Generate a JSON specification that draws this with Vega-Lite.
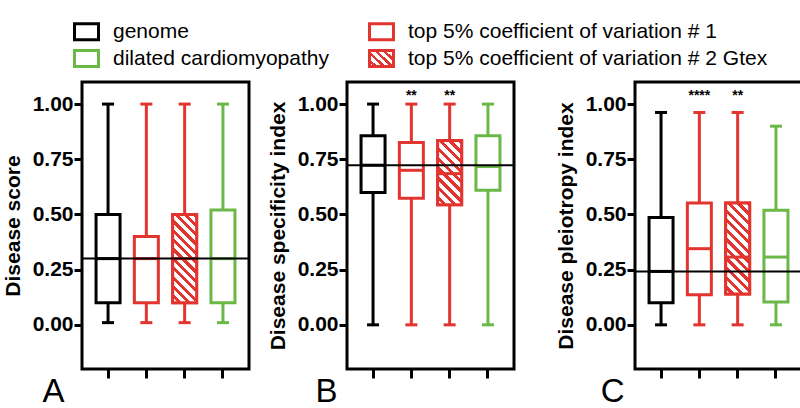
{
"$schema": "https://vega.github.io/schema/vega-lite/v6.json",
"background": "white",
"padding": {"left": 0, "top": 21, "right": 0, "bottom": 0},
"config": {
  "font": "Liberation Sans",
  "view": {"stroke": "black", "strokeWidth": 3},
  "tick": {"opacity": 1},
  "axisY": {"domain": false, "grid": false, "tickSize": 8, "tickWidth": 3, "tickColor": "black", "labelFont": "Liberation Sans", "labelFontWeight": "bold", "labelFontSize": 21, "labelColor": "black", "labelPadding": 1, "titleFont": "Liberation Sans", "titleFontSize": 21, "titleFontWeight": "bold", "titleColor": "black", "titlePadding": 9},
  "axisX": {"labels": false, "domain": false, "grid": false, "tickSize": 9, "tickWidth": 3, "tickColor": "black", "bandPosition": 0.5, "titleAnchor": "start", "titleAlign": "right", "titleY": 32, "titleBaseline": "alphabetic", "titleFontSize": 33, "titleFontWeight": "normal", "titleColor": "black", "titleFont": "Liberation Sans"}
},
"datasets": {
  "A": [
    {"group": "genome", "min": 0.01, "q1": 0.1, "median": 0.3, "q3": 0.5, "max": 1.0, "sig": ""},
    {"group": "top 5% coefficient of variation # 1", "min": 0.01, "q1": 0.1, "median": 0.3, "q3": 0.4, "max": 1.0, "sig": ""},
    {"group": "top 5% coefficient of variation # 2 Gtex", "min": 0.01, "q1": 0.1, "median": 0.3, "q3": 0.5, "max": 1.0, "sig": ""},
    {"group": "dilated cardiomyopathy", "min": 0.01, "q1": 0.1, "median": 0.3, "q3": 0.52, "max": 1.0, "sig": ""}
  ],
  "B": [
    {"group": "genome", "min": 0.0, "q1": 0.6, "median": 0.723, "q3": 0.856, "max": 1.0, "sig": ""},
    {"group": "top 5% coefficient of variation # 1", "min": 0.0, "q1": 0.573, "median": 0.7, "q3": 0.826, "max": 1.0, "sig": "**"},
    {"group": "top 5% coefficient of variation # 2 Gtex", "min": 0.0, "q1": 0.544, "median": 0.685, "q3": 0.835, "max": 1.0, "sig": "**"},
    {"group": "dilated cardiomyopathy", "min": 0.0, "q1": 0.61, "median": 0.717, "q3": 0.856, "max": 1.0, "sig": ""}
  ],
  "C": [
    {"group": "genome", "min": 0.0, "q1": 0.1, "median": 0.242, "q3": 0.486, "max": 0.962, "sig": ""},
    {"group": "top 5% coefficient of variation # 1", "min": 0.0, "q1": 0.136, "median": 0.345, "q3": 0.552, "max": 0.962, "sig": "****"},
    {"group": "top 5% coefficient of variation # 2 Gtex", "min": 0.0, "q1": 0.14, "median": 0.307, "q3": 0.552, "max": 0.962, "sig": "**"},
    {"group": "dilated cardiomyopathy", "min": 0.0, "q1": 0.104, "median": 0.307, "q3": 0.519, "max": 0.9, "sig": ""}
  ]
},
"spacing": 36,
"hconcat": [
{"spacing": 13, "hconcat": [
{
  "width": 167, "height": 287,
  "data": {"name": "A"},
  "layer": [
    {"mark": {"type": "rule", "strokeWidth": 3},
     "encoding": {
       "x": {"field": "group", "type": "nominal", "scale": {"type": "band", "domain": ["genome", "top 5% coefficient of variation # 1", "top 5% coefficient of variation # 2 Gtex", "dilated cardiomyopathy"], "paddingInner": 0, "paddingOuter": 0.18}, "axis": {"title": "A", "titleX": -18}},
       "y": {"field": "min", "type": "quantitative", "scale": {"domain": [-0.2, 1.1], "nice": false, "zero": false}, "axis": {"title": "Disease score", "values": [0, 0.25, 0.5, 0.75, 1], "format": ".2f"}},
       "y2": {"field": "max"},
       "stroke": {"field": "group", "type": "nominal", "scale": {"domain": ["genome", "top 5% coefficient of variation # 1", "dilated cardiomyopathy", "top 5% coefficient of variation # 2 Gtex"], "range": ["#000000", "#e2352f", "#6ab946", "#e2352f"]},
         "legend": {"title": null, "orient": "none", "legendX": -6, "legendY": -61, "direction": "horizontal", "columns": 2, "columnPadding": 34, "rowPadding": -2, "padding": 0, "labelFont": "Liberation Sans", "labelFontSize": 21, "labelColor": "black", "labelLimit": 500, "labelOffset": 16, "symbolType": "M-1.5,-1H1.5V1H-1.5Z", "symbolSize": 256, "symbolStrokeWidth": 3, "symbolOpacity": 1,
           "encode": {"symbols": {"update": {"fill": {"signal": "datum.value === 'top 5% coefficient of variation # 2 Gtex' ? {gradient: 'linear', x1: 0, y1: 1, x2: 1.1394, y2: 0.1982, stops: [{offset: 0, color: 'white'}, {offset: 0.11, color: 'white'}, {offset: 0.11, color: '#e2352f'}, {offset: 0.2, color: '#e2352f'}, {offset: 0.2, color: 'white'}, {offset: 0.31, color: 'white'}, {offset: 0.31, color: '#e2352f'}, {offset: 0.4, color: '#e2352f'}, {offset: 0.4, color: 'white'}, {offset: 0.51, color: 'white'}, {offset: 0.51, color: '#e2352f'}, {offset: 0.6, color: '#e2352f'}, {offset: 0.6, color: 'white'}, {offset: 0.71, color: 'white'}, {offset: 0.71, color: '#e2352f'}, {offset: 0.8, color: '#e2352f'}, {offset: 0.8, color: 'white'}, {offset: 0.91, color: 'white'}, {offset: 0.91, color: '#e2352f'}, {offset: 1, color: '#e2352f'}]} : 'white'"}}}}}}}},
    {"mark": {"type": "tick", "size": 12, "thickness": 3, "opacity": 1},
     "encoding": {"x": {"field": "group", "type": "nominal"}, "y": {"field": "min", "type": "quantitative"},
       "fill": {"field": "group", "type": "nominal", "scale": {"domain": ["genome", "top 5% coefficient of variation # 1", "top 5% coefficient of variation # 2 Gtex", "dilated cardiomyopathy"], "range": ["#000000", "#e2352f", "#e2352f", "#6ab946"]}, "legend": null}}},
    {"mark": {"type": "tick", "size": 12, "thickness": 3, "opacity": 1},
     "encoding": {"x": {"field": "group", "type": "nominal"}, "y": {"field": "max", "type": "quantitative"},
       "fill": {"field": "group", "type": "nominal", "legend": null}}},
    {"mark": {"type": "bar", "width": 24, "fill": "white", "strokeWidth": 3},
     "encoding": {"x": {"field": "group", "type": "nominal"}, "y": {"field": "q1", "type": "quantitative"}, "y2": {"field": "q3"},
       "stroke": {"field": "group", "type": "nominal"}}},
    {"transform": [{"filter": "datum.group === 'top 5% coefficient of variation # 2 Gtex'"}],
     "mark": {"type": "bar", "width": 24, "stroke": "#e2352f", "strokeWidth": 3,
       "fill": {"gradient": "linear", "x1": 0, "y1": 1, "x2": 0.3219, "y2": -0.1843, "stops": [
         {"offset": 0, "color": "white"}, {"offset": 0.0458, "color": "white"}, {"offset": 0.0458, "color": "#e2352f"}, {"offset": 0.0833, "color": "#e2352f"},
         {"offset": 0.0833, "color": "white"}, {"offset": 0.1292, "color": "white"}, {"offset": 0.1292, "color": "#e2352f"}, {"offset": 0.1667, "color": "#e2352f"},
         {"offset": 0.1667, "color": "white"}, {"offset": 0.2125, "color": "white"}, {"offset": 0.2125, "color": "#e2352f"}, {"offset": 0.25, "color": "#e2352f"},
         {"offset": 0.25, "color": "white"}, {"offset": 0.2958, "color": "white"}, {"offset": 0.2958, "color": "#e2352f"}, {"offset": 0.3333, "color": "#e2352f"},
         {"offset": 0.3333, "color": "white"}, {"offset": 0.3792, "color": "white"}, {"offset": 0.3792, "color": "#e2352f"}, {"offset": 0.4167, "color": "#e2352f"},
         {"offset": 0.4167, "color": "white"}, {"offset": 0.4625, "color": "white"}, {"offset": 0.4625, "color": "#e2352f"}, {"offset": 0.5, "color": "#e2352f"},
         {"offset": 0.5, "color": "white"}, {"offset": 0.5458, "color": "white"}, {"offset": 0.5458, "color": "#e2352f"}, {"offset": 0.5833, "color": "#e2352f"},
         {"offset": 0.5833, "color": "white"}, {"offset": 0.6292, "color": "white"}, {"offset": 0.6292, "color": "#e2352f"}, {"offset": 0.6667, "color": "#e2352f"},
         {"offset": 0.6667, "color": "white"}, {"offset": 0.7125, "color": "white"}, {"offset": 0.7125, "color": "#e2352f"}, {"offset": 0.75, "color": "#e2352f"},
         {"offset": 0.75, "color": "white"}, {"offset": 0.7958, "color": "white"}, {"offset": 0.7958, "color": "#e2352f"}, {"offset": 0.8333, "color": "#e2352f"},
         {"offset": 0.8333, "color": "white"}, {"offset": 0.8792, "color": "white"}, {"offset": 0.8792, "color": "#e2352f"}, {"offset": 0.9167, "color": "#e2352f"},
         {"offset": 0.9167, "color": "white"}, {"offset": 0.9625, "color": "white"}, {"offset": 0.9625, "color": "#e2352f"}, {"offset": 1, "color": "#e2352f"}]}},
     "encoding": {"x": {"field": "group", "type": "nominal"}, "y": {"field": "q1", "type": "quantitative"}, "y2": {"field": "q3"}}},
    {"mark": {"type": "tick", "size": 24, "thickness": 3, "opacity": 1},
     "encoding": {"x": {"field": "group", "type": "nominal"}, "y": {"field": "median", "type": "quantitative"},
       "fill": {"field": "group", "type": "nominal", "legend": null}}},
    {"transform": [{"filter": "datum.group === 'genome'"}],
     "mark": {"type": "rule", "strokeWidth": 2, "color": "black"},
     "encoding": {"y": {"field": "median", "type": "quantitative"}}}
  ]
},
{
  "width": 167, "height": 287,
  "data": {"name": "B"},
  "layer": [
    {"mark": {"type": "rule", "strokeWidth": 3},
     "encoding": {
       "x": {"field": "group", "type": "nominal", "scale": {"type": "band", "domain": ["genome", "top 5% coefficient of variation # 1", "top 5% coefficient of variation # 2 Gtex", "dilated cardiomyopathy"], "paddingInner": 0, "paddingOuter": 0.18}, "axis": {"title": "B", "titleX": -10}},
       "y": {"field": "min", "type": "quantitative", "scale": {"domain": [-0.2, 1.1], "nice": false, "zero": false}, "axis": {"title": "Disease specificity index", "values": [0, 0.25, 0.5, 0.75, 1], "format": ".2f"}},
       "y2": {"field": "max"},
       "stroke": {"field": "group", "type": "nominal", "scale": {"domain": ["genome", "top 5% coefficient of variation # 1", "dilated cardiomyopathy", "top 5% coefficient of variation # 2 Gtex"], "range": ["#000000", "#e2352f", "#6ab946", "#e2352f"]}}}},
    {"mark": {"type": "tick", "size": 12, "thickness": 3, "opacity": 1},
     "encoding": {"x": {"field": "group", "type": "nominal"}, "y": {"field": "min", "type": "quantitative"},
       "fill": {"field": "group", "type": "nominal", "scale": {"domain": ["genome", "top 5% coefficient of variation # 1", "top 5% coefficient of variation # 2 Gtex", "dilated cardiomyopathy"], "range": ["#000000", "#e2352f", "#e2352f", "#6ab946"]}, "legend": null}}},
    {"mark": {"type": "tick", "size": 12, "thickness": 3, "opacity": 1},
     "encoding": {"x": {"field": "group", "type": "nominal"}, "y": {"field": "max", "type": "quantitative"},
       "fill": {"field": "group", "type": "nominal", "legend": null}}},
    {"mark": {"type": "bar", "width": 24, "fill": "white", "strokeWidth": 3},
     "encoding": {"x": {"field": "group", "type": "nominal"}, "y": {"field": "q1", "type": "quantitative"}, "y2": {"field": "q3"},
       "stroke": {"field": "group", "type": "nominal"}}},
    {"transform": [{"filter": "datum.group === 'top 5% coefficient of variation # 2 Gtex'"}],
     "mark": {"type": "bar", "width": 24, "stroke": "#e2352f", "strokeWidth": 3,
       "fill": {"gradient": "linear", "x1": 0, "y1": 1, "x2": 0.4499, "y2": -0.2054, "stops": [
         {"offset": 0, "color": "white"}, {"offset": 0.0611, "color": "white"}, {"offset": 0.0611, "color": "#e2352f"}, {"offset": 0.1111, "color": "#e2352f"},
         {"offset": 0.1111, "color": "white"}, {"offset": 0.1722, "color": "white"}, {"offset": 0.1722, "color": "#e2352f"}, {"offset": 0.2222, "color": "#e2352f"},
         {"offset": 0.2222, "color": "white"}, {"offset": 0.2833, "color": "white"}, {"offset": 0.2833, "color": "#e2352f"}, {"offset": 0.3333, "color": "#e2352f"},
         {"offset": 0.3333, "color": "white"}, {"offset": 0.3944, "color": "white"}, {"offset": 0.3944, "color": "#e2352f"}, {"offset": 0.4444, "color": "#e2352f"},
         {"offset": 0.4444, "color": "white"}, {"offset": 0.5056, "color": "white"}, {"offset": 0.5056, "color": "#e2352f"}, {"offset": 0.5556, "color": "#e2352f"},
         {"offset": 0.5556, "color": "white"}, {"offset": 0.6167, "color": "white"}, {"offset": 0.6167, "color": "#e2352f"}, {"offset": 0.6667, "color": "#e2352f"},
         {"offset": 0.6667, "color": "white"}, {"offset": 0.7278, "color": "white"}, {"offset": 0.7278, "color": "#e2352f"}, {"offset": 0.7778, "color": "#e2352f"},
         {"offset": 0.7778, "color": "white"}, {"offset": 0.8389, "color": "white"}, {"offset": 0.8389, "color": "#e2352f"}, {"offset": 0.8889, "color": "#e2352f"},
         {"offset": 0.8889, "color": "white"}, {"offset": 0.95, "color": "white"}, {"offset": 0.95, "color": "#e2352f"}, {"offset": 1, "color": "#e2352f"}]}},
     "encoding": {"x": {"field": "group", "type": "nominal"}, "y": {"field": "q1", "type": "quantitative"}, "y2": {"field": "q3"}}},
    {"mark": {"type": "tick", "size": 24, "thickness": 3, "opacity": 1},
     "encoding": {"x": {"field": "group", "type": "nominal"}, "y": {"field": "median", "type": "quantitative"},
       "fill": {"field": "group", "type": "nominal", "legend": null}}},
    {"transform": [{"filter": "datum.group === 'genome'"}],
     "mark": {"type": "rule", "strokeWidth": 2, "color": "black"},
     "encoding": {"y": {"field": "median", "type": "quantitative"}}},
    {"transform": [{"filter": "datum.sig !== ''"}],
     "mark": {"type": "text", "fontSize": 14, "fontWeight": "bold", "color": "black", "baseline": "middle", "font": "Liberation Sans"},
     "encoding": {"x": {"field": "group", "type": "nominal"}, "y": {"datum": 1.035}, "text": {"field": "sig"}}}
  ]
}
]},
{
  "width": 167, "height": 287,
  "data": {"name": "C"},
  "layer": [
    {"mark": {"type": "rule", "strokeWidth": 3},
     "encoding": {
       "x": {"field": "group", "type": "nominal", "scale": {"type": "band", "domain": ["genome", "top 5% coefficient of variation # 1", "top 5% coefficient of variation # 2 Gtex", "dilated cardiomyopathy"], "paddingInner": 0, "paddingOuter": 0.18}, "axis": {"title": "C", "titleX": -11}},
       "y": {"field": "min", "type": "quantitative", "scale": {"domain": [-0.2, 1.1], "nice": false, "zero": false}, "axis": {"title": "Disease pleiotropy index", "values": [0, 0.25, 0.5, 0.75, 1], "format": ".2f"}},
       "y2": {"field": "max"},
       "stroke": {"field": "group", "type": "nominal", "scale": {"domain": ["genome", "top 5% coefficient of variation # 1", "dilated cardiomyopathy", "top 5% coefficient of variation # 2 Gtex"], "range": ["#000000", "#e2352f", "#6ab946", "#e2352f"]}}}},
    {"mark": {"type": "tick", "size": 12, "thickness": 3, "opacity": 1},
     "encoding": {"x": {"field": "group", "type": "nominal"}, "y": {"field": "min", "type": "quantitative"},
       "fill": {"field": "group", "type": "nominal", "scale": {"domain": ["genome", "top 5% coefficient of variation # 1", "top 5% coefficient of variation # 2 Gtex", "dilated cardiomyopathy"], "range": ["#000000", "#e2352f", "#e2352f", "#6ab946"]}, "legend": null}}},
    {"mark": {"type": "tick", "size": 12, "thickness": 3, "opacity": 1},
     "encoding": {"x": {"field": "group", "type": "nominal"}, "y": {"field": "max", "type": "quantitative"},
       "fill": {"field": "group", "type": "nominal", "legend": null}}},
    {"mark": {"type": "bar", "width": 24, "fill": "white", "strokeWidth": 3},
     "encoding": {"x": {"field": "group", "type": "nominal"}, "y": {"field": "q1", "type": "quantitative"}, "y2": {"field": "q3"},
       "stroke": {"field": "group", "type": "nominal"}}},
    {"transform": [{"filter": "datum.group === 'top 5% coefficient of variation # 2 Gtex'"}],
     "mark": {"type": "bar", "width": 24, "stroke": "#e2352f", "strokeWidth": 3,
       "fill": {"gradient": "linear", "x1": 0, "y1": 1, "x2": 0.3116, "y2": -0.1815, "stops": [
         {"offset": 0, "color": "white"}, {"offset": 0.0458, "color": "white"}, {"offset": 0.0458, "color": "#e2352f"}, {"offset": 0.0833, "color": "#e2352f"},
         {"offset": 0.0833, "color": "white"}, {"offset": 0.1292, "color": "white"}, {"offset": 0.1292, "color": "#e2352f"}, {"offset": 0.1667, "color": "#e2352f"},
         {"offset": 0.1667, "color": "white"}, {"offset": 0.2125, "color": "white"}, {"offset": 0.2125, "color": "#e2352f"}, {"offset": 0.25, "color": "#e2352f"},
         {"offset": 0.25, "color": "white"}, {"offset": 0.2958, "color": "white"}, {"offset": 0.2958, "color": "#e2352f"}, {"offset": 0.3333, "color": "#e2352f"},
         {"offset": 0.3333, "color": "white"}, {"offset": 0.3792, "color": "white"}, {"offset": 0.3792, "color": "#e2352f"}, {"offset": 0.4167, "color": "#e2352f"},
         {"offset": 0.4167, "color": "white"}, {"offset": 0.4625, "color": "white"}, {"offset": 0.4625, "color": "#e2352f"}, {"offset": 0.5, "color": "#e2352f"},
         {"offset": 0.5, "color": "white"}, {"offset": 0.5458, "color": "white"}, {"offset": 0.5458, "color": "#e2352f"}, {"offset": 0.5833, "color": "#e2352f"},
         {"offset": 0.5833, "color": "white"}, {"offset": 0.6292, "color": "white"}, {"offset": 0.6292, "color": "#e2352f"}, {"offset": 0.6667, "color": "#e2352f"},
         {"offset": 0.6667, "color": "white"}, {"offset": 0.7125, "color": "white"}, {"offset": 0.7125, "color": "#e2352f"}, {"offset": 0.75, "color": "#e2352f"},
         {"offset": 0.75, "color": "white"}, {"offset": 0.7958, "color": "white"}, {"offset": 0.7958, "color": "#e2352f"}, {"offset": 0.8333, "color": "#e2352f"},
         {"offset": 0.8333, "color": "white"}, {"offset": 0.8792, "color": "white"}, {"offset": 0.8792, "color": "#e2352f"}, {"offset": 0.9167, "color": "#e2352f"},
         {"offset": 0.9167, "color": "white"}, {"offset": 0.9625, "color": "white"}, {"offset": 0.9625, "color": "#e2352f"}, {"offset": 1, "color": "#e2352f"}]}},
     "encoding": {"x": {"field": "group", "type": "nominal"}, "y": {"field": "q1", "type": "quantitative"}, "y2": {"field": "q3"}}},
    {"mark": {"type": "tick", "size": 24, "thickness": 3, "opacity": 1},
     "encoding": {"x": {"field": "group", "type": "nominal"}, "y": {"field": "median", "type": "quantitative"},
       "fill": {"field": "group", "type": "nominal", "legend": null}}},
    {"transform": [{"filter": "datum.group === 'genome'"}],
     "mark": {"type": "rule", "strokeWidth": 2, "color": "black"},
     "encoding": {"y": {"field": "median", "type": "quantitative"}}},
    {"transform": [{"filter": "datum.sig !== ''"}],
     "mark": {"type": "text", "fontSize": 14, "fontWeight": "bold", "color": "black", "baseline": "middle", "font": "Liberation Sans"},
     "encoding": {"x": {"field": "group", "type": "nominal"}, "y": {"datum": 1.035}, "text": {"field": "sig"}}}
  ]
}
]
}
